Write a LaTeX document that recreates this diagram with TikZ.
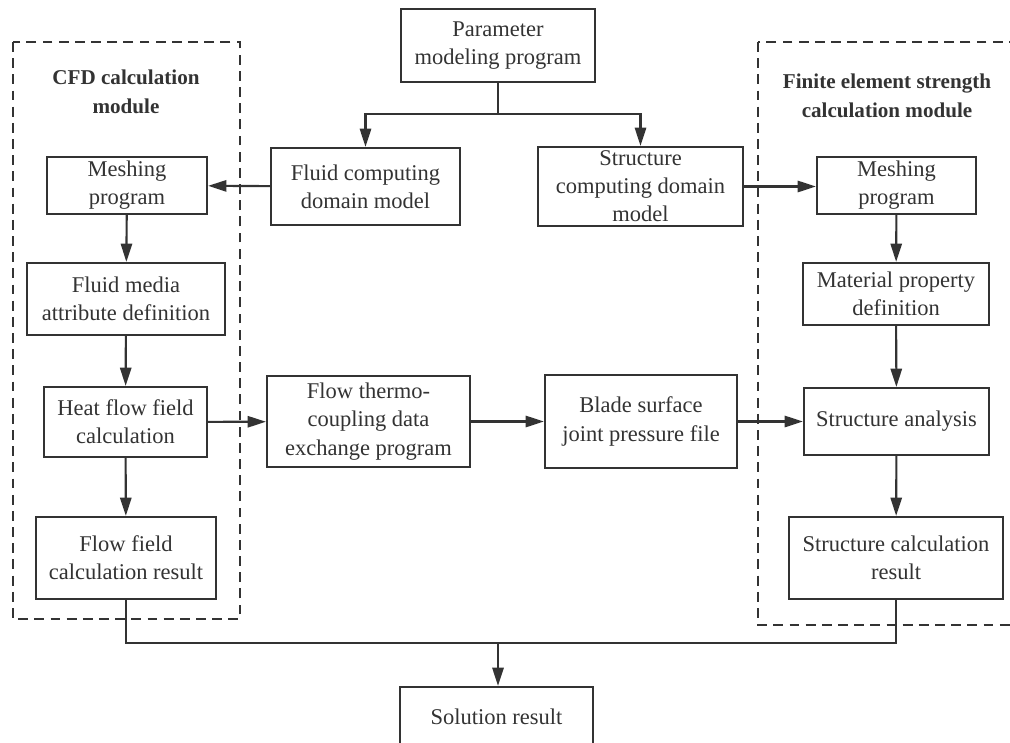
\documentclass[tikz,border=0pt]{standalone}
\usepackage{fontspec}
\setmainfont{Liberation Serif}
\usepackage{tikz}
\usetikzlibrary{arrows.meta,positioning,calc}
\definecolor{ink}{HTML}{333333}

\begin{document}
\begin{tikzpicture}[
    x=0.025cm,y=-0.025cm,
    box/.style={draw=ink,line width=1.5pt,rectangle,align=center,inner sep=0pt,text=ink,
      font=\fontsize{16}{20}\selectfont},
    title/.style={align=center,text=ink,font=\fontsize{15}{20.5}\selectfont\bfseries},
    module/.style={draw=ink,line width=1.4pt,dash pattern=on 7pt off 4.5pt},
    link/.style={draw=ink,line width=1.5pt,-{Triangle[length=13pt,width=8pt]}},
    wire/.style={draw=ink,line width=1.5pt}
  ]
    \clip (0,0) rectangle (1010,742);
    \fill[white] (0,0) rectangle (1010,742);

    % Module frames
    \draw[module] (13,42) rectangle (240,619);
    \draw[module] (758,42) rectangle (1025,625);
    \node[title] (tc) at (126,92) {CFD calculation\\module};
    \node[title] (tf) at (887,96) {Finite element strength\\calculation module};

    % Top: parameter model and domains
    \node[box,minimum width=4.85cm,minimum height=1.825cm] (p) at (498,45.5) {Parameter\\modeling program};
    \node[box,minimum width=4.725cm,minimum height=1.925cm] (fd) at (365.5,186.5) {Fluid computing\\domain model};
    \node[box,minimum width=5.125cm,minimum height=1.975cm] (sd) at (640.5,186.5) {Structure\\computing domain\\model};
    \coordinate (split) at (498,114);

    % CFD column
    \node[box,minimum width=4.0cm,minimum height=1.425cm] (lm) at (127,185.5) {Meshing\\program};
    \node[box,minimum width=4.95cm,minimum height=1.8cm] (fm) at (126,299) {Fluid media\\attribute definition};
    \node[box,minimum width=4.075cm,minimum height=1.75cm] (hf) at (125.5,422) {Heat flow field\\calculation};
    \node[box,minimum width=4.5cm,minimum height=2.05cm] (fr) at (126,558) {Flow field\\calculation result};

    % Strength column
    \node[box,minimum width=3.975cm,minimum height=1.425cm] (rm) at (896.5,185.5) {Meshing\\program};
    \node[box,minimum width=4.65cm,minimum height=1.55cm] (mp) at (896,294) {Material property\\definition};
    \node[box,minimum width=4.625cm,minimum height=1.675cm] (sa) at (896.5,421.5) {Structure analysis};
    \node[box,minimum width=5.35cm,minimum height=2.05cm] (sr) at (896,558) {Structure calculation\\result};

    % Coupling row
    \node[box,minimum width=5.075cm,minimum height=2.275cm] (ex) at (368.5,421.5) {Flow thermo-\\coupling data\\exchange program};
    \node[box,minimum width=4.8cm,minimum height=2.325cm] (bp) at (641,421.5) {Blade surface\\joint pressure file};

    % Result
    \node[box,minimum width=4.825cm,minimum height=1.5cm] (sol) at (496.5,717) {Solution result};
    \coordinate (merge) at (498,643);

    % Connectors
    \draw[wire] (p) -- (split);
    \draw[link] (split) -| (fd);
    \draw[link] (split) -| (sd);
    \draw[link] (fd) -- (lm);
    \draw[link] (sd.east) -- (rm.west |- sd.east);
    \draw[link] (lm) -- (fm);
    \draw[link] (fm) -- (hf);
    \draw[link] (hf) -- (ex);
    \draw[link] (hf) -- (fr);
    \draw[link] (rm) -- (mp);
    \draw[link] (mp) -- (sa);
    \draw[link] (sa) -- (sr);
    \draw[link] (ex) -- (bp);
    \draw[link] (bp) -- (sa);
    \draw[wire] (fr.south) |- (merge);
    \draw[wire] (sr.south) |- (merge);
    \draw[link] (merge) -- (merge |- sol.north);
  \end{tikzpicture}
\end{document}
